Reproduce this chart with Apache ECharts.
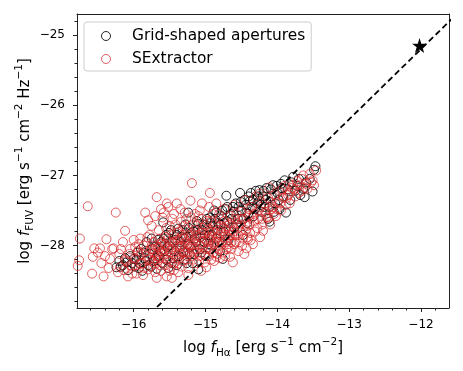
<!DOCTYPE html>
<html lang="en">
<head>
    <meta charset="UTF-8">
    <title>FUV vs Halpha</title>
    <script src="https://cdn.jsdelivr.net/npm/echarts@6/dist/echarts.min.js"></script>
    <style>
        html, body { margin: 0; padding: 0; background: #fff; }
    </style>
</head>
<body>
<div id="main" style="width: 463px;height: 371px"></div>

<script>
    // data: [log f_Ha, log f_FUV]
    var gridPts = [
        [-16.24,-28.31],[-16.20,-28.22],[-16.15,-28.28],[-16.10,-28.24],[-16.08,-28.35],[-16.05,-28.15],[-16.00,-28.19],[-15.98,-28.30],
        [-15.95,-28.10],[-15.92,-28.25],[-15.90,-28.05],[-15.88,-28.36],[-15.85,-28.18],[-15.82,-27.95],[-15.80,-28.28],[-15.78,-28.12],
        [-15.75,-27.90],[-15.72,-28.22],[-15.70,-28.02],[-15.68,-28.33],[-15.65,-28.15],[-15.62,-27.95],[-15.60,-28.25],[-15.59,-27.67],
        [-15.57,-28.08],[-15.55,-27.85],[-15.52,-28.32],[-15.50,-28.00],[-15.48,-27.78],[-15.45,-28.18],[-15.42,-27.92],[-15.40,-28.28],
        [-15.38,-27.76],[-15.36,-28.05],[-15.33,-27.88],[-15.30,-28.20],[-15.28,-27.70],[-15.25,-27.98],[-15.24,-27.53],[-15.22,-28.12],
        [-15.20,-27.82],[-15.18,-28.25],[-15.15,-27.90],[-15.12,-27.65],[-15.10,-28.34],[-15.10,-27.69],[-15.08,-28.05],[-15.05,-27.78],
        [-15.02,-27.95],[-15.00,-28.15],[-14.98,-27.62],[-14.95,-27.85],[-14.94,-27.60],[-14.92,-28.00],[-14.90,-27.72],[-14.88,-27.50],
        [-14.85,-27.53],[-14.85,-27.90],[-14.82,-27.68],[-14.80,-28.08],[-14.78,-27.58],[-14.76,-28.19],[-14.75,-27.80],[-14.72,-27.48],
        [-14.71,-27.29],[-14.70,-27.65],[-14.68,-27.92],[-14.65,-27.55],[-14.62,-27.45],[-14.60,-27.75],[-14.58,-27.40],[-14.55,-27.62],
        [-14.52,-27.25],[-14.50,-27.50],[-14.48,-27.85],[-14.46,-27.35],[-14.43,-27.53],[-14.42,-27.68],[-14.40,-27.30],[-14.38,-27.36],
        [-14.35,-27.45],[-14.33,-27.58],[-14.30,-27.22],[-14.28,-27.40],[-14.25,-27.21],[-14.25,-27.36],[-14.22,-27.52],[-14.20,-27.30],
        [-14.18,-27.45],[-14.15,-27.18],[-14.13,-27.62],[-14.11,-27.45],[-14.11,-27.66],[-14.08,-27.30],[-14.06,-27.14],[-14.03,-27.40],
        [-14.00,-27.25],[-13.97,-27.48],[-13.95,-27.12],[-13.92,-27.30],[-13.90,-27.07],[-13.88,-27.53],[-13.85,-27.20],[-13.82,-27.35],
        [-13.80,-27.10],[-13.78,-27.02],[-13.75,-27.22],[-13.72,-27.15],[-13.70,-27.05],[-13.68,-27.28],[-13.64,-27.19],[-13.62,-27.31],
        [-13.60,-27.10],[-13.55,-27.05],[-13.51,-27.23],[-13.49,-26.92],[-13.47,-26.87],
        [-16.18,-28.30],[-16.12,-28.18],[-16.02,-28.25],[-15.96,-28.20],[-15.93,-28.32],[-15.86,-28.10],[-15.83,-28.22],[-15.76,-28.30],
        [-15.74,-28.05],[-15.69,-28.18],[-15.66,-27.92],[-15.63,-28.08],[-15.58,-27.90],[-15.55,-28.20],[-15.53,-28.02],[-15.51,-27.82],
        [-15.47,-28.25],[-15.46,-27.95],[-15.43,-28.08],[-15.40,-27.85],[-15.37,-28.15],[-15.35,-27.95],[-15.32,-27.78],[-15.31,-28.10],
        [-15.27,-27.88],[-15.26,-28.25],[-15.23,-27.75],[-15.21,-28.02],[-15.17,-27.80],[-15.16,-28.12],[-15.13,-27.95],[-15.11,-27.78],
        [-15.07,-27.88],[-15.06,-28.10],[-15.03,-27.70],[-15.01,-27.85],[-14.97,-27.75],[-14.96,-27.98],[-14.93,-27.68],[-14.91,-27.85],
        [-14.87,-27.62],[-14.84,-27.78],[-14.81,-27.95],[-14.79,-27.70],[-14.77,-27.50],[-14.74,-27.68],[-14.70,-27.45],[-14.67,-27.80],
        [-14.64,-27.62],[-14.61,-27.52],[-14.57,-27.70],[-14.54,-27.45],[-14.51,-27.38],[-14.47,-27.62],[-14.44,-27.42],[-14.41,-27.55],
        [-14.37,-27.25],[-14.34,-27.35],[-14.31,-27.48],[-14.27,-27.30],[-14.23,-27.42],[-14.19,-27.22],[-14.16,-27.35],[-14.09,-27.20],
        [-14.05,-27.52],[-14.01,-27.15],[-13.98,-27.35],[-13.94,-27.18]
    ];

    var sexPts = [
        [-16.78,-28.29],[-16.76,-28.21],[-16.75,-27.90],[-16.64,-27.44],[-16.58,-28.40],[-16.57,-28.16],[-16.55,-28.04],[-16.50,-28.10],
        [-16.47,-28.04],[-16.45,-28.25],[-16.42,-28.44],[-16.40,-28.15],[-16.38,-27.91],[-16.35,-28.32],[-16.33,-28.19],[-16.30,-28.05],
        [-16.28,-28.04],[-16.25,-27.53],[-16.22,-28.38],[-16.20,-28.12],[-16.19,-28.31],[-16.15,-27.95],[-16.12,-27.79],[-16.10,-28.22],
        [-16.08,-28.44],[-16.05,-28.05],[-16.02,-28.30],[-16.00,-27.92],[-15.98,-28.18],[-15.96,-28.40],[-15.94,-28.08],[-15.91,-27.90],
        [-15.90,-28.26],[-15.87,-28.42],[-15.86,-28.00],[-15.84,-27.53],[-15.82,-28.15],[-15.80,-27.64],[-15.80,-28.34],[-15.78,-27.85],
        [-15.76,-28.05],[-15.74,-28.22],[-15.72,-27.95],[-15.70,-28.38],[-15.68,-27.31],[-15.68,-28.46],[-15.67,-28.12],[-15.65,-27.78],
        [-15.63,-28.28],[-15.62,-27.98],[-15.60,-27.60],[-15.58,-27.53],[-15.58,-28.18],[-15.56,-27.88],[-15.54,-27.40],[-15.54,-28.44],
        [-15.52,-28.05],[-15.50,-27.72],[-15.48,-28.30],[-15.47,-28.46],[-15.46,-27.95],[-15.44,-27.55],[-15.42,-28.15],[-15.40,-27.40],
        [-15.40,-27.82],[-15.38,-28.38],[-15.36,-28.02],[-15.34,-27.66],[-15.32,-28.22],[-15.30,-27.90],[-15.29,-27.53],[-15.28,-28.10],
        [-15.26,-27.78],[-15.24,-28.32],[-15.22,-27.98],[-15.21,-27.36],[-15.20,-28.15],[-15.19,-27.11],[-15.18,-27.70],[-15.16,-28.05],
        [-15.14,-27.86],[-15.12,-28.25],[-15.10,-27.58],[-15.08,-27.50],[-15.08,-28.00],[-15.06,-28.36],[-15.04,-27.75],[-15.02,-28.12],
        [-15.00,-27.92],[-14.99,-28.31],[-14.98,-27.65],[-14.96,-28.05],[-14.94,-27.25],[-14.94,-27.82],[-14.92,-28.20],[-14.90,-27.55],
        [-14.88,-27.98],[-14.86,-27.70],[-14.85,-28.16],[-14.84,-27.88],[-14.82,-28.05],[-14.80,-27.62],[-14.78,-27.80],[-14.76,-28.10],
        [-14.74,-27.48],[-14.72,-27.95],[-14.70,-27.72],[-14.68,-28.02],[-14.66,-28.16],[-14.65,-27.58],[-14.63,-27.85],[-14.62,-28.24],
        [-14.60,-27.42],[-14.58,-27.95],[-14.56,-27.68],[-14.54,-28.08],[-14.52,-27.80],[-14.50,-27.52],[-14.48,-27.90],[-14.46,-28.12],
        [-14.45,-27.35],[-14.43,-28.04],[-14.42,-27.72],[-14.41,-27.91],[-14.40,-27.58],[-14.38,-27.82],[-14.36,-27.45],[-14.34,-27.98],
        [-14.32,-27.65],[-14.30,-27.30],[-14.28,-27.75],[-14.26,-27.50],[-14.25,-27.26],[-14.24,-27.88],[-14.22,-27.62],[-14.20,-27.79],
        [-14.18,-27.40],[-14.16,-27.55],[-14.15,-27.60],[-14.13,-27.32],[-14.11,-27.17],[-14.10,-27.70],[-14.08,-27.48],[-14.06,-27.45],
        [-14.04,-27.28],[-14.02,-27.58],[-14.00,-27.38],[-13.97,-27.22],[-13.95,-27.50],[-13.92,-27.32],[-13.90,-27.15],[-13.88,-27.42],
        [-13.85,-27.28],[-13.83,-27.26],[-13.83,-27.40],[-13.80,-27.18],[-13.78,-27.14],[-13.75,-27.30],[-13.72,-27.08],[-13.69,-27.14],
        [-13.66,-27.22],[-13.64,-27.00],[-13.60,-27.12],[-13.58,-27.19],[-13.55,-26.98],[-13.51,-27.07],[-13.49,-27.14],[-13.46,-26.93],
        [-16.12,-28.20],[-16.05,-28.28],[-15.98,-28.02],[-15.92,-28.15],[-15.88,-28.25],[-15.83,-28.08],[-15.78,-28.20],[-15.73,-28.10],
        [-15.69,-28.00],[-15.66,-28.22],[-15.61,-28.08],[-15.57,-27.98],[-15.53,-28.20],[-15.49,-28.10],[-15.45,-27.85],[-15.43,-28.25],
        [-15.39,-28.00],[-15.35,-27.90],[-15.31,-28.08],[-15.27,-28.20],[-15.23,-27.85],[-15.19,-28.00],[-15.15,-27.78],[-15.11,-28.10],
        [-15.07,-27.88],[-15.03,-28.02],[-14.97,-27.78],[-14.93,-27.92],[-14.89,-28.10],[-14.87,-27.82],[-14.83,-27.95],[-14.79,-27.72],
        [-14.75,-27.88],[-14.71,-28.05],[-14.67,-27.78],[-14.64,-27.95],[-14.59,-27.62],[-14.55,-27.85],[-14.51,-27.70],[-14.47,-27.62],
        [-14.44,-27.78],[-14.39,-27.70],[-14.35,-27.60],
        [-16.18,-28.05],[-16.14,-28.35],[-16.06,-28.12],[-16.02,-28.40],[-15.97,-28.28],[-15.93,-27.98],[-15.89,-28.12],[-15.85,-28.32],
        [-15.81,-27.88],[-15.77,-28.30],[-15.75,-28.00],[-15.71,-28.26],[-15.68,-28.15],[-15.64,-27.90],[-15.62,-28.36],[-15.59,-28.12],
        [-15.56,-28.28],[-15.55,-27.75],[-15.51,-27.95],[-15.50,-28.36],[-15.47,-28.05],[-15.44,-28.35],[-15.42,-27.70],[-15.41,-28.10],
        [-15.37,-28.20],[-15.37,-27.80],[-15.33,-28.00],[-15.33,-28.30],[-15.30,-27.72],[-15.28,-27.95],[-15.25,-28.10],[-15.24,-28.42],
        [-15.21,-27.92],[-15.20,-27.60],[-15.17,-28.20],[-15.16,-27.92],[-15.13,-27.72],[-15.12,-28.05],[-15.09,-28.22],[-15.06,-27.82],
        [-15.05,-27.62],[-15.01,-28.24],[-15.00,-27.70],[-14.98,-27.95],[-14.95,-28.15],[-14.92,-27.65],[-14.91,-27.88],[-14.88,-28.22],
        [-14.86,-28.02],[-14.83,-27.78],[-14.81,-27.55],[-14.80,-28.18],[-14.77,-27.95],[-14.74,-27.65],[-14.73,-28.15],[-14.69,-27.88],
        [-14.66,-27.68],[-14.64,-28.05],[-14.61,-27.80],[-14.60,-27.98],[-14.57,-27.55],[-14.53,-27.95],[-14.50,-27.62],[-14.49,-28.00],
        [-14.45,-27.70],[-14.42,-27.88],[-14.40,-27.48],[-14.37,-27.92],[-14.33,-27.55],[-14.31,-27.80],[-14.27,-27.62],[-14.23,-27.45],
        [-14.21,-27.70],[-14.17,-27.52],[-14.12,-27.60],[-14.09,-27.38],[-14.05,-27.55],[-14.01,-27.48],[-13.96,-27.40],[-13.93,-27.20],
        [-13.87,-27.32],[-13.84,-27.12],[-13.76,-27.20],[-13.70,-27.25],[-13.66,-27.05],[-13.62,-27.18],[-13.53,-27.10],
        [-15.75,-27.72],[-15.70,-27.58],[-15.62,-27.48],[-15.52,-27.45],[-15.46,-27.62],[-15.35,-27.48],[-15.27,-27.62],[-15.15,-27.55],
        [-15.05,-27.40],[-14.95,-27.45],[-14.85,-27.40],
        [-15.72,-28.05],[-15.70,-28.20],[-15.66,-28.02],[-15.64,-28.18],[-15.60,-27.95],[-15.58,-28.05],[-15.55,-28.12],[-15.52,-27.90],
        [-15.49,-28.22],[-15.45,-28.02],[-15.43,-27.95],[-15.40,-28.18],[-15.38,-27.92],[-15.35,-28.12],[-15.32,-27.85],[-15.29,-28.02],
        [-15.26,-28.15],[-15.23,-28.00],[-15.20,-27.85],[-15.17,-28.10],[-15.14,-27.98],[-15.11,-27.85],[-15.08,-28.15],[-15.05,-27.95],
        [-15.02,-27.82],[-14.99,-28.05],[-14.96,-27.88],[-14.93,-28.05],[-14.90,-27.80],[-14.87,-27.95],[-14.84,-28.12],[-14.81,-27.85],
        [-14.78,-28.00],[-14.75,-27.75],[-14.72,-27.85],[-14.69,-27.98],[-14.66,-27.85],[-14.62,-27.72],[-14.58,-27.85],[-14.54,-27.75]
    ];

    var starPt = [[-12.02, -25.15]];
    // one-to-one reference line (y = x - 13.2)
    var refLine = [[-17.0, -30.2], [-11.0, -24.2]];

    var xMajor = [-16, -15, -14, -13, -12];
    var xMinor = [-16.6, -16.4, -16.2, -15.8, -15.6, -15.4, -15.2, -14.8, -14.6, -14.4, -14.2,
                  -13.8, -13.6, -13.4, -13.2, -12.8, -12.6, -12.4, -12.2, -11.8, -11.6];
    var yMajor = [-28, -27, -26, -25];
    var yMinor = [-28.8, -28.6, -28.4, -28.2, -27.8, -27.6, -27.4, -27.2, -26.8, -26.6, -26.4, -26.2,
                  -25.8, -25.6, -25.4, -25.2, -24.8];

    var xRange = [-16.79, -11.61];
    var yRange = [-28.89, -24.70];

    var FONT = 'DejaVu Sans';
    var frameColor = '#222';
    var redEdge = 'rgba(214,39,40,0.72)';
    var blackEdge = 'rgba(0,0,0,0.85)';

    function minus(v) {
        return String(v).replace('-', '\u2212');
    }

    var richName = {
        n: { fontFamily: FONT, fontSize: 15, color: '#000', lineHeight: 22 },
        i: { fontFamily: FONT, fontSize: 15, color: '#000', fontStyle: 'italic', lineHeight: 22 },
        sub: { fontFamily: FONT, fontSize: 10.5, color: '#000', verticalAlign: 'bottom', lineHeight: 22, padding: [6, 0, 0, 0] },
        sup: { fontFamily: FONT, fontSize: 10.5, color: '#000', verticalAlign: 'top', lineHeight: 22, padding: [0, 0, 6, 0] }
    };

    function baseAxis(extra) {
        var a = {
            type: 'value',
            splitLine: { show: false },
            axisLine: { show: true, onZero: false, lineStyle: { color: frameColor, width: 1 } },
            axisTick: { show: false },
            axisLabel: { show: false }
        };
        for (var k in extra) a[k] = extra[k];
        return a;
    }

    var chart = echarts.init(document.getElementById('main'), null, { renderer: 'canvas' });

    var option = {
        animation: false,
        backgroundColor: '#fff',
        grid: { left: 77, right: 14, top: 14, bottom: 63 },
        legend: {
            left: 84,
            top: 22,
            orient: 'vertical',
            padding: [4, 6, 2, 17],
            itemGap: 3,
            itemWidth: 42,
            itemHeight: 9,
            borderColor: '#ccc',
            borderWidth: 1,
            borderRadius: 3,
            backgroundColor: 'rgba(255,255,255,0.8)',
            textStyle: { fontFamily: FONT, fontSize: 15.4, color: '#000', lineHeight: 20 },
            data: [
                { name: 'Grid-shaped apertures', icon: 'circle',
                  itemStyle: { color: 'transparent', borderColor: blackEdge, borderWidth: 1, opacity: 1 } },
                { name: 'SExtractor', icon: 'circle',
                  itemStyle: { color: 'transparent', borderColor: redEdge, borderWidth: 1, opacity: 1 } }
            ]
        },
        xAxis: [
            baseAxis({
                position: 'bottom', min: xRange[0], max: xRange[1],
                axisTick: { show: true, length: 4, inside: false, customValues: xMajor, lineStyle: { color: frameColor } },
                axisLabel: { show: true, customValues: xMajor, margin: 11, fontFamily: FONT, fontSize: 12, color: '#000',
                    formatter: minus },
                name: '{n|log }{i|f}{sub|H\u03b1}{n| [erg s}{sup|\u22121}{n| cm}{sup|\u22122}{n|]}',
                nameLocation: 'middle',
                nameGap: 29,
                nameMoveOverlap: false,
                nameTextStyle: { rich: richName }
            }),
            baseAxis({
                position: 'bottom', min: xRange[0], max: xRange[1],
                axisLine: { show: false, onZero: false },
                axisTick: { show: true, length: 2.5, customValues: xMinor, lineStyle: { color: frameColor } }
            }),
            baseAxis({ position: 'top', min: xRange[0], max: xRange[1] })
        ],
        yAxis: [
            baseAxis({
                position: 'left', min: yRange[0], max: yRange[1],
                axisTick: { show: true, length: 4, customValues: yMajor, lineStyle: { color: frameColor } },
                axisLabel: { show: true, customValues: yMajor, margin: 12, fontFamily: FONT, fontSize: 12, color: '#000',
                    formatter: minus },
                name: '{n|log }{i|f}{sub|FUV}{n| [erg s}{sup|\u22121}{n| cm}{sup|\u22122}{n| Hz}{sup|\u22121}{n|]}',
                nameLocation: 'middle',
                nameRotate: 90,
                nameGap: 41,
                nameMoveOverlap: false,
                nameTextStyle: { rich: richName }
            }),
            baseAxis({
                position: 'left', min: yRange[0], max: yRange[1],
                axisLine: { show: false, onZero: false },
                axisTick: { show: true, length: 2.5, customValues: yMinor, lineStyle: { color: frameColor } }
            }),
            baseAxis({ position: 'right', min: yRange[0], max: yRange[1] })
        ],
        series: [
            {
                name: 'Grid-shaped apertures',
                type: 'scatter',
                data: gridPts,
                symbol: 'circle',
                symbolSize: 9,
                itemStyle: { color: 'transparent', borderColor: blackEdge, borderWidth: 1, opacity: 1 },
                emphasis: { disabled: true },
                z: 2
            },
            {
                name: 'SExtractor',
                type: 'scatter',
                data: sexPts,
                symbol: 'circle',
                symbolSize: 9,
                itemStyle: { color: 'transparent', borderColor: redEdge, borderWidth: 1, opacity: 1 },
                emphasis: { disabled: true },
                z: 3
            },
            {
                name: 'ref',
                type: 'line',
                data: refLine,
                symbol: 'none',
                clip: true,
                lineStyle: { color: '#000', width: 1.8, type: [6, 3.5] },
                emphasis: { disabled: true },
                z: 4
            },
            {
                name: 'star',
                type: 'scatter',
                data: starPt,
                symbol: 'path://M0,-10 L2.245,-3.09 L9.51,-3.09 L3.633,1.18 L5.88,8.09 L0,3.82 L-5.88,8.09 L-3.633,1.18 L-9.51,-3.09 L-2.245,-3.09 Z',
                symbolSize: 15,
                itemStyle: { color: '#000', opacity: 1 },
                emphasis: { disabled: true },
                z: 5
            }
        ]
    };

    chart.setOption(option);
</script>
</body>
</html>
